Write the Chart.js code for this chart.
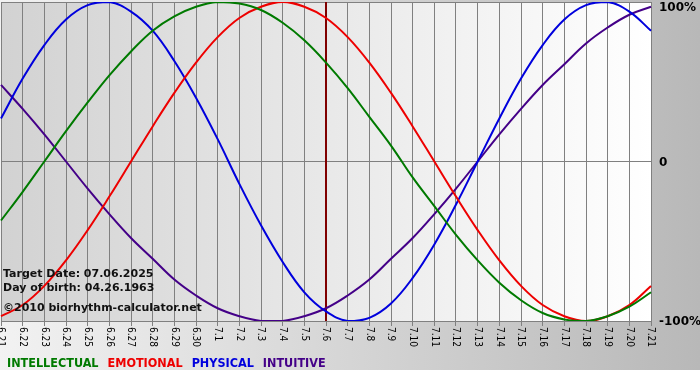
<!DOCTYPE html>
<html>
<head>
<meta charset="utf-8">
<script src="https://cdn.jsdelivr.net/npm/chart.js@4.4.0/dist/chart.umd.min.js"></script>
<style>
  html, body { margin: 0; padding: 0; background: #fff; }
  #wrap { width: 700px; height: 380px; }
</style>
</head>
<body>
<div id="wrap"><canvas id="bio" width="700" height="380"></canvas></div>
<script>
// days shown on the x axis (month.day)
const DAYS = ['6.21','6.22','6.23','6.24','6.25','6.26','6.27','6.28','6.29','6.30',
              '7.1','7.2','7.3','7.4','7.5','7.6','7.7','7.8','7.9','7.10',
              '7.11','7.12','7.13','7.14','7.15','7.16','7.17','7.18','7.19','7.20','7.21'];

// cycle values in percent, one per day
const INTELLECTUAL = [-37,-19,0,19,37,54,69,82,91,97,100,99,95,87,76,62,46,28,10,-10,-28,-46,-62,-76,-87,-95,-99,-100,-97,-91,-82];
const EMOTIONAL    = [-97,-90,-78,-62,-43,-22,0,22,43,62,78,90,97,100,97,90,78,62,43,22,0,-22,-43,-62,-78,-90,-97,-100,-97,-90,-78];
const PHYSICAL     = [27,52,73,89,98,100,94,82,63,40,14,-14,-40,-63,-82,-94,-100,-98,-89,-73,-52,-27,0,27,52,73,89,98,100,94,82];
const INTUITIVE    = [48,33,17,0,-17,-33,-48,-61,-74,-84,-92,-97,-100,-100,-97,-92,-84,-74,-61,-48,-33,-17,0,17,33,48,61,74,84,92,97];

const Y_TICKS = [100, 0, -100];
const Y_LABELS = ['100%', '0', '-100%'];

const SERIES_NAMES = ['INTELLECTUAL', 'EMOTIONAL', 'PHYSICAL', 'INTUITIVE'];
const SERIES_COLORS = ['#007a00', '#ee0000', '#0000dd', '#440088'];

const TARGET_DAY = '7.6';
const INFO_LINES = ['Target Date: 07.06.2025', 'Day of birth: 04.26.1963', '\u00a92010 biorhythm-calculator.net'];

// backgrounds, target marker, axis labels, info text and legend
const decorations = {
  id: 'decorations',
  beforeDraw(chart) {
    const { ctx, chartArea: a, width, height } = chart;
    ctx.save();
    let g = ctx.createLinearGradient(0, 0, width, 0);
    g.addColorStop(0, '#f2f2f2');
    g.addColorStop(1, '#b8b8b8');
    ctx.fillStyle = g;
    ctx.fillRect(0, 0, width, 370);
    ctx.fillStyle = '#ffffff';
    ctx.fillRect(0, 370, width, height - 370);

    g = ctx.createLinearGradient(a.left, 0, a.right, 0);
    g.addColorStop(0, '#d2d2d2');
    g.addColorStop(1, '#ffffff');
    ctx.fillStyle = g;
    ctx.fillRect(a.left, a.top, a.right - a.left, a.bottom - a.top);
    ctx.restore();
  },
  beforeDatasetsDraw(chart) {
    const { ctx, chartArea: a } = chart;
    const x = chart.scales.x.getPixelForValue(DAYS.indexOf(TARGET_DAY));
    ctx.save();
    ctx.strokeStyle = '#800000';
    ctx.lineWidth = 2;
    ctx.beginPath();
    ctx.moveTo(x, a.top);
    ctx.lineTo(x, a.bottom);
    ctx.stroke();
    ctx.restore();
  },
  afterDraw(chart) {
    const { ctx, chartArea: a } = chart;
    const xs = chart.scales.x;
    const ys = chart.scales.y;
    ctx.save();

    // day labels, turned clockwise
    ctx.fillStyle = '#000';
    ctx.font = "10px 'DejaVu Sans Condensed'";
    ctx.textAlign = 'left';
    ctx.textBaseline = 'middle';
    DAYS.forEach((d, i) => {
      ctx.save();
      ctx.translate(xs.getPixelForValue(i), a.bottom + 6);
      ctx.rotate(Math.PI / 2);
      ctx.fillText(d, 0, 0);
      ctx.restore();
    });

    // percent labels on the right, kept inside the canvas at the top
    ctx.font = "bold 12px 'DejaVu Sans'";
    Y_TICKS.forEach((v, i) => {
      const y = Math.max(ys.getPixelForValue(v) + 1, 8);
      ctx.fillText(Y_LABELS[i], a.right + 8, y);
    });

    // info block
    ctx.font = "bold 11px 'DejaVu Sans'";
    ctx.textBaseline = 'alphabetic';
    ctx.fillStyle = '#111';
    ctx.fillText(INFO_LINES[0], 3, 277);
    ctx.fillText(INFO_LINES[1], 3, 291);
    ctx.fillText(INFO_LINES[2], 3, 311);

    // coloured legend words
    ctx.font = "bold 12.5px 'DejaVu Sans Condensed'";
    let x = 7;
    SERIES_NAMES.forEach((n, i) => {
      ctx.fillStyle = SERIES_COLORS[i];
      ctx.fillText(n, x, 367);
      x += ctx.measureText(n).width + 9;
    });
    ctx.restore();
  }
};

const mkSet = (label, data, i) => ({
  label: label,
  data: data,
  borderColor: SERIES_COLORS[i],
  borderWidth: 2,
  pointRadius: 0,
  tension: 0.4,
  fill: false
});

new Chart(document.getElementById('bio'), {
  type: 'line',
  data: {
    labels: DAYS,
    datasets: [
      mkSet(SERIES_NAMES[0], INTELLECTUAL, 0),
      mkSet(SERIES_NAMES[1], EMOTIONAL, 1),
      mkSet(SERIES_NAMES[2], PHYSICAL, 2),
      mkSet(SERIES_NAMES[3], INTUITIVE, 3)
    ]
  },
  options: {
    responsive: false,
    animation: false,
    layout: { padding: { left: 1, top: 2, right: 0, bottom: 54 } },
    plugins: { legend: { display: false }, tooltip: { enabled: false } },
    scales: {
      x: {
        ticks: { display: false },
        grid: { color: '#808080', lineWidth: 1, drawTicks: true, tickLength: 5 },
        border: { display: false }
      },
      y: {
        position: 'right',
        min: -100,
        max: 100,
        afterFit(scale) {
          scale.width = 49;
          scale.paddingTop = 0;
          scale.paddingBottom = 0;
        },
        afterBuildTicks(scale) {
          scale.ticks = Y_TICKS.map(v => ({ value: v }));
        },
        ticks: { display: false },
        grid: { color: '#808080', lineWidth: 1, drawTicks: false },
        border: { color: '#808080' }
      }
    }
  },
  plugins: [decorations]
});
</script>
</body>
</html>
